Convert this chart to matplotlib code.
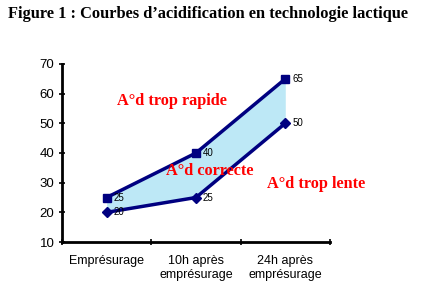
import numpy as np
import matplotlib.pyplot as plt

categories = ['Empr\u00e9surage', '10h apr\u00e8s\nempr\u00e9surage', '24h apr\u00e8s\nempr\u00e9surage']
upper = [25, 40, 65]
lower = [20, 25, 50]

navy = '#000080'
fill_col = '#bde8f6'
sans = ['Liberation Sans', 'DejaVu Sans']
serif = ['Liberation Serif', 'DejaVu Serif']

fig = plt.figure(figsize=(4.26, 3.03), dpi=100)
fig.text(0.018, 0.955, 'Figure 1 : Courbes d\u2019acidification en technologie lactique',
         family=serif, weight='bold', fontsize=11.8, va='center')

ax = fig.add_axes([0.1455, 0.2013, 0.629, 0.5875])
x = np.arange(len(categories)) + 0.5

ax.fill_between(x, lower, upper, color=fill_col, lw=0)
ax.plot(x, upper, color=navy, lw=2.5, marker='s', ms=5.5)
ax.plot(x, lower, color=navy, lw=2.5, marker='D', ms=5)

for xi, v in zip(x, upper):
    ax.annotate(str(v), (xi, v), xytext=(5, 0), textcoords='offset points',
                fontsize=7, family=sans, va='center')
for xi, v in zip(x, lower):
    ax.annotate(str(v), (xi, v), xytext=(5, 0), textcoords='offset points',
                fontsize=7, family=sans, va='center')

ax.text(0.62, 57.5, 'A\u00b0d trop rapide', color='red', family=serif,
        weight='bold', fontsize=11.7, va='center')
ax.text(1.16, 34, 'A\u00b0d correcte', color='red', family=serif,
        weight='bold', fontsize=11.7, va='center')
ax.text(2.3, 29.5, 'A\u00b0d trop lente', color='red', family=serif,
        weight='bold', fontsize=11.7, va='center', clip_on=False)

ax.set_xlim(0, 3)
ax.set_ylim(10, 70)
ax.set_yticks(range(10, 71, 10))
ax.set_xticks([0, 1, 2, 3])
ax.set_xticklabels([])
ax.set_xticks(x, minor=True)
ax.set_xticklabels(categories, minor=True, family=sans, fontsize=9, linespacing=1.3)
ax.tick_params(axis='x', which='minor', length=0, pad=9)
ax.tick_params(axis='x', which='major', length=4, width=1.2, direction='inout')
ax.tick_params(axis='y', length=5, width=1.2, direction='inout', pad=3)
for lbl in ax.get_yticklabels():
    lbl.set_family(sans)
    lbl.set_fontsize(9.5)

for side in ['top', 'right']:
    ax.spines[side].set_visible(False)
for side in ['left', 'bottom']:
    ax.spines[side].set_linewidth(2)

plt.savefig('out.png', dpi=100)
